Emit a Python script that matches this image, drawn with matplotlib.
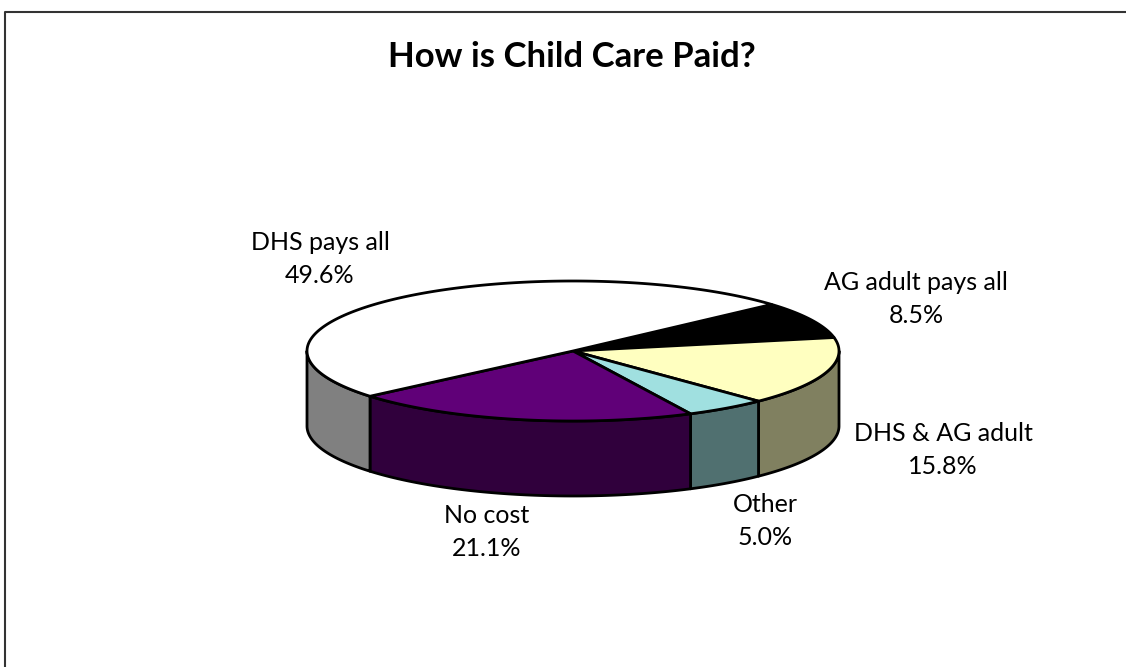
import numpy as np
import matplotlib
matplotlib.use('Agg')
import matplotlib.pyplot as plt

labels = ['AG adult pays all', 'DHS & AG adult', 'Other', 'No cost', 'DHS pays all']
values = [8.5, 15.8, 5.0, 21.1, 49.6]
top_colors = ['#000000', '#FFFFC0', '#A0E0E0', '#600078', '#FFFFFF']
side_colors = ['#000000', '#808060', '#507070', '#30003C', '#808080']
label_pos = [(916, 299), (943, 450), (765, 521), (487, 532), (320, 259)]

plt.rcParams['font.family'] = ['Lato', 'DejaVu Sans']

cx, cy, rx, ry, depth = 573, 351, 266, 70, 75
start = 41.7


def rim(a0, a1, n=120):
    t = np.radians(np.linspace(a0, a1, n))
    return cx + rx*np.cos(t), cy - ry*np.sin(t)


fig = plt.figure(figsize=(11.26, 6.67), dpi=100)
ax = fig.add_axes([0, 0, 1, 1])
ax.set_xlim(0, 1126)
ax.set_ylim(667, 0)
ax.axis('off')

# frame, right and bottom edges are cut off in the original
ax.plot([5, 5, 1126], [667, 12, 12], color='#333333', lw=1.5)

shares = np.array(values)/sum(values)*360
ends = start - np.cumsum(shares)
starts = ends + shares

# side walls, only the front half shows
for a0, a1, c in zip(starts, ends, side_colors):
    lo = max(a1, -180)
    hi = min(a0, 0)
    if hi <= lo:
        continue
    x, y = rim(hi, lo)
    ax.fill(np.r_[x, x[::-1]], np.r_[y, y[::-1] + depth], fc=c, ec='black', lw=2, joinstyle='round', zorder=2)

# top faces
for a0, a1, c in zip(starts, ends, top_colors):
    x, y = rim(a0, a1, 200)
    ax.fill(np.r_[cx, x], np.r_[cy, y], fc=c, ec='black', lw=2, joinstyle='round', zorder=3)

ax.text(572, 57, 'How is Child Care Paid?', ha='center', va='center', fontsize=25, fontweight='bold', color='black')

for name, v, (px, py) in zip(labels, values, label_pos):
    ax.text(px, py, '%s\n%.1f%%' % (name, v), ha='center', va='center', fontsize=18,
            color='black', linespacing=1.5)

fig.savefig('out.png', dpi=100)
